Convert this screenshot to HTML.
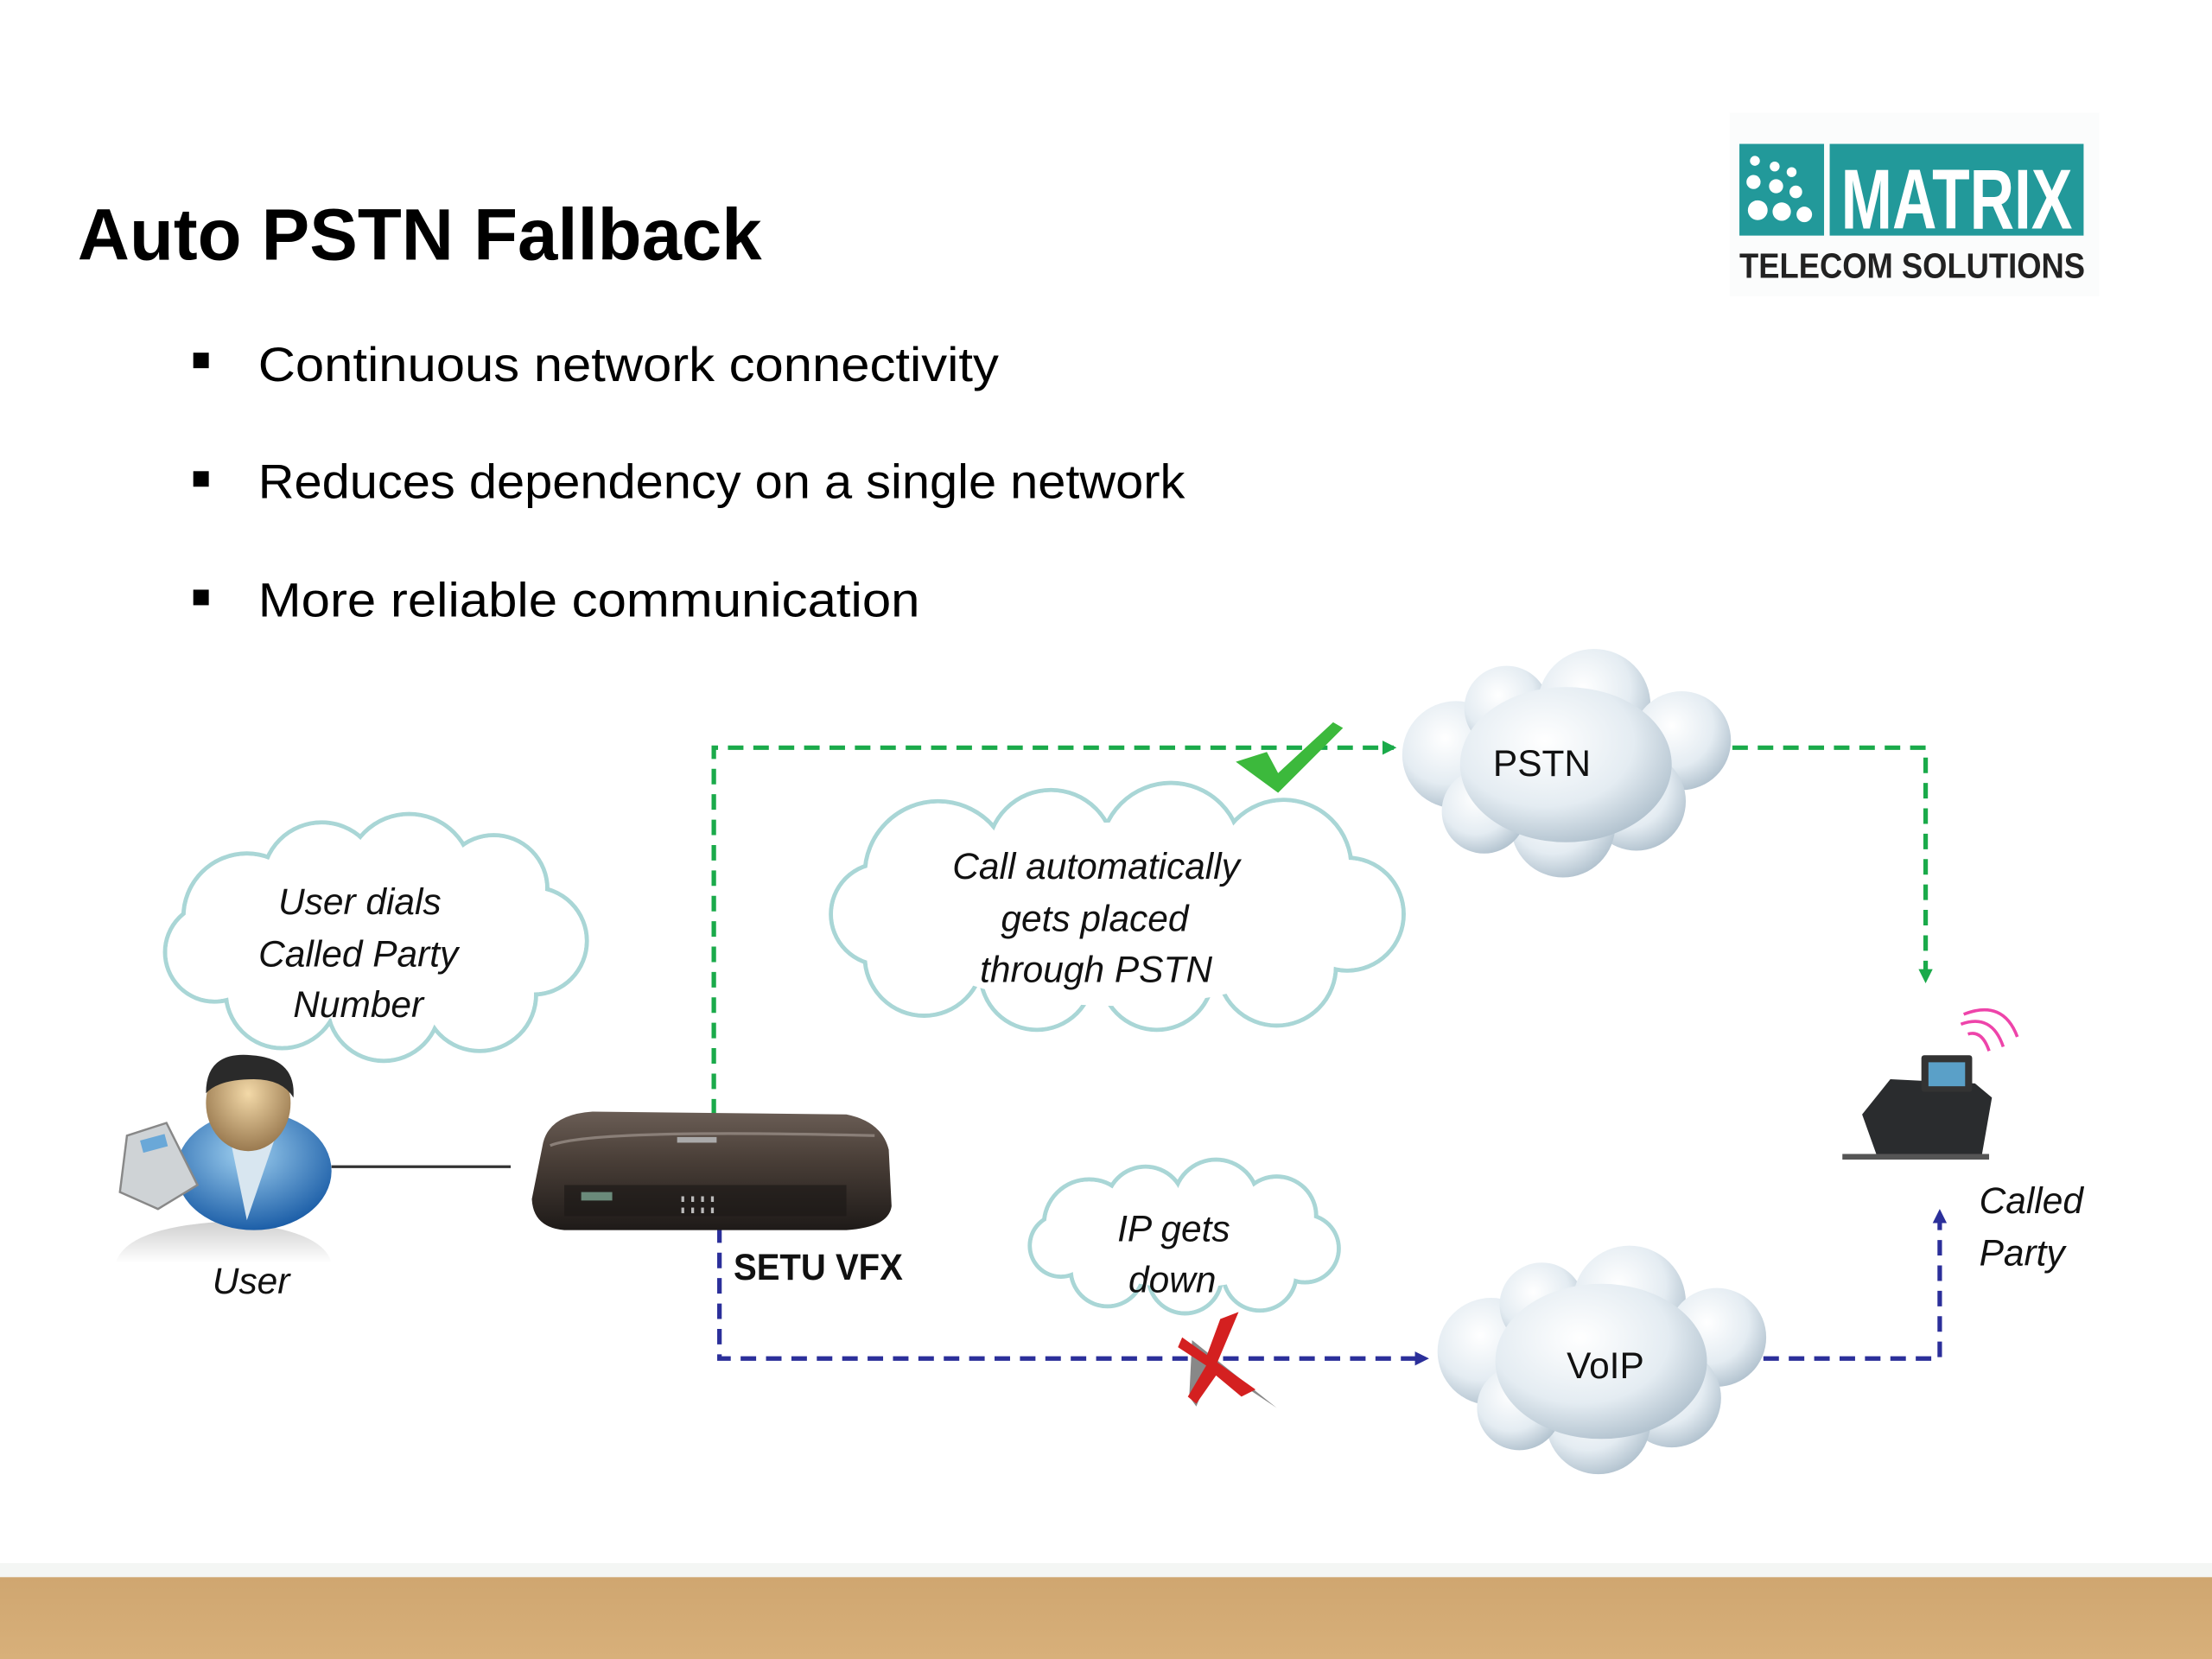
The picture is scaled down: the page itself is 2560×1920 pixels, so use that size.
<!DOCTYPE html>
<html><head><meta charset="utf-8"><style>
html,body{margin:0;padding:0;background:#fff;}
svg{display:block;}
</style></head><body>
<svg width="2560" height="1920" viewBox="0 0 1568 1176" xmlns="http://www.w3.org/2000/svg">
<defs>
<radialGradient id="cg" cx="40%" cy="35%" r="70%">
<stop offset="0" stop-color="#ffffff"/><stop offset="0.6" stop-color="#e4ecf2"/><stop offset="1" stop-color="#aebfcc"/>
</radialGradient>
<radialGradient id="body" cx="45%" cy="35%" r="65%"><stop offset="0" stop-color="#9fd0f0"/><stop offset="1" stop-color="#1d5fa8"/></radialGradient>
<radialGradient id="face" cx="50%" cy="40%" r="60%"><stop offset="0" stop-color="#f3d9a8"/><stop offset="1" stop-color="#9a7a50"/></radialGradient>
<linearGradient id="dev" x1="0" y1="0" x2="0" y2="1"><stop offset="0" stop-color="#6a5d55"/><stop offset="0.4" stop-color="#4a3f38"/><stop offset="1" stop-color="#1e1a18"/></linearGradient>
<linearGradient id="bar" x1="0" y1="0" x2="0" y2="1"><stop offset="0" stop-color="#cfa670"/><stop offset="1" stop-color="#d8b07a"/></linearGradient>
<linearGradient id="shd" x1="0" y1="0" x2="0" y2="1"><stop offset="0" stop-color="#cfcfcf"/><stop offset="1" stop-color="#ffffff"/></linearGradient>
<marker id="ag" markerWidth="10" markerHeight="10" refX="8" refY="5" orient="auto" markerUnits="userSpaceOnUse"><path d="M0,0 L10,5 L0,10 Z" fill="#1aaa4a"/></marker>
<marker id="ab" markerWidth="10" markerHeight="10" refX="8" refY="5" orient="auto" markerUnits="userSpaceOnUse"><path d="M0,0 L10,5 L0,10 Z" fill="#2b2f9a"/></marker>
</defs>
<rect width="1568" height="1176" fill="#fff"/>
<rect x="0" y="1108" width="1568" height="12" fill="#f4f6f4"/>
<rect x="0" y="1118" width="1568" height="58" fill="url(#bar)"/>

<text x="55" y="184" font-family="Liberation Sans, sans-serif" font-weight="bold" font-size="52" textLength="485" lengthAdjust="spacingAndGlyphs" fill="#000">Auto PSTN Fallback</text>
<g font-family="Liberation Sans, sans-serif" font-size="34" fill="#000">
<rect x="137" y="250" width="11" height="11"/><text x="183" y="270" textLength="525" lengthAdjust="spacingAndGlyphs">Continuous network connectivity</text>
<rect x="137" y="334" width="11" height="11"/><text x="183" y="353" textLength="657" lengthAdjust="spacingAndGlyphs">Reduces dependency on a single network</text>
<rect x="137" y="418" width="11" height="11"/><text x="183" y="437" textLength="469" lengthAdjust="spacingAndGlyphs">More reliable communication</text>
</g>

<rect x="1226" y="80" width="262" height="130" fill="#fbfcfc"/>
<rect x="1233" y="102" width="60" height="65" fill="#22999a"/>
<rect x="1297" y="102" width="180" height="65" fill="#22999a"/>
<g fill="#fff">
<circle cx="1244" cy="114" r="3.5"/><circle cx="1258" cy="118" r="3.5"/><circle cx="1270" cy="122" r="3.5"/>
<circle cx="1243" cy="129" r="5"/><circle cx="1259" cy="132" r="5"/><circle cx="1273" cy="136" r="4.5"/>
<circle cx="1246" cy="149" r="7"/><circle cx="1263" cy="150" r="6.5"/><circle cx="1279" cy="152" r="5.5"/>
</g>
<text x="1305" y="162" font-family="Liberation Sans Narrow, Liberation Sans, sans-serif" font-weight="bold" font-size="60" textLength="164" lengthAdjust="spacingAndGlyphs" fill="#fff">MATRIX</text>
<text x="1233" y="197" font-family="Liberation Sans Narrow, Liberation Sans, sans-serif" font-weight="bold" font-size="25" textLength="245" lengthAdjust="spacingAndGlyphs" fill="#222">TELECOM SOLUTIONS</text>

<g fill="none" stroke-width="3.2" stroke-dasharray="11,7">
<path d="M506,790 L506,530 L988,530" stroke="#1aaa4a" marker-end="url(#ag)"/>
<path d="M1228,530 L1365,530 L1365,695" stroke="#1aaa4a" marker-end="url(#ag)"/>
<path d="M510,870 L510,963 L1011,963" stroke="#2b2f9a" marker-end="url(#ab)"/>
<path d="M1250,963 L1375,963 L1375,859" stroke="#2b2f9a" marker-end="url(#ab)"/>
</g>
<line x1="235" y1="827" x2="362" y2="827" stroke="#333" stroke-width="2"/>

<g stroke="#a9d6d6" stroke-width="3" fill="#fff">
<g>
<circle cx="175" cy="650" r="45"/><circle cx="228" cy="625" r="42"/><circle cx="290" cy="622" r="45"/><circle cx="350" cy="630" r="38"/><circle cx="378" cy="667" r="38"/><circle cx="340" cy="705" r="40"/><circle cx="272" cy="712" r="40"/><circle cx="200" cy="703" r="40"/><circle cx="152" cy="675" r="35"/>
</g>
<g stroke="none">
<circle cx="175" cy="650" r="43.5"/><circle cx="228" cy="625" r="40.5"/><circle cx="290" cy="622" r="43.5"/><circle cx="350" cy="630" r="36.5"/><circle cx="378" cy="667" r="36.5"/><circle cx="340" cy="705" r="38.5"/><circle cx="272" cy="712" r="38.5"/><circle cx="200" cy="703" r="38.5"/><circle cx="152" cy="675" r="33.5"/><ellipse cx="265" cy="667" rx="95" ry="58"/>
</g>
<g>
<circle cx="665" cy="620" r="52"/><circle cx="745" cy="605" r="45"/><circle cx="830" cy="605" r="50"/><circle cx="910" cy="615" r="48"/><circle cx="955" cy="648" r="40"/><circle cx="905" cy="685" r="42"/><circle cx="820" cy="690" r="40"/><circle cx="735" cy="690" r="40"/><circle cx="655" cy="678" r="42"/><circle cx="625" cy="648" r="36"/>
</g>
<g stroke="none">
<circle cx="665" cy="620" r="50.5"/><circle cx="745" cy="605" r="43.5"/><circle cx="830" cy="605" r="48.5"/><circle cx="910" cy="615" r="46.5"/><circle cx="955" cy="648" r="38.5"/><circle cx="905" cy="685" r="40.5"/><circle cx="820" cy="690" r="38.5"/><circle cx="735" cy="690" r="38.5"/><circle cx="655" cy="678" r="40.5"/><circle cx="625" cy="648" r="34.5"/><ellipse cx="790" cy="648" rx="160" ry="65"/>
</g>
<g>
<circle cx="772" cy="868" r="32"/><circle cx="812" cy="855" r="28"/><circle cx="862" cy="852" r="30"/><circle cx="905" cy="862" r="28"/><circle cx="925" cy="885" r="24"/><circle cx="893" cy="903" r="26"/><circle cx="840" cy="905" r="26"/><circle cx="785" cy="900" r="26"/><circle cx="752" cy="883" r="22"/>
</g>
<g stroke="none">
<circle cx="772" cy="868" r="30.5"/><circle cx="812" cy="855" r="26.5"/><circle cx="862" cy="852" r="28.5"/><circle cx="905" cy="862" r="26.5"/><circle cx="925" cy="885" r="22.5"/><circle cx="893" cy="903" r="24.5"/><circle cx="840" cy="905" r="24.5"/><circle cx="785" cy="900" r="24.5"/><circle cx="752" cy="883" r="20.5"/><ellipse cx="840" cy="878" rx="80" ry="35"/>
</g>
</g>

<path d="M82,895 Q90,870 158,866 Q228,870 235,895 Z" fill="url(#shd)"/>
<ellipse cx="180" cy="830" rx="55" ry="42" fill="url(#body)"/>
<path d="M160,792 L200,792 L175,865 Z" fill="#d8e6f0"/>
<ellipse cx="176" cy="782" rx="30" ry="34" fill="url(#face)"/>
<path d="M146,775 Q146,745 178,748 Q210,750 208,778 Q200,765 180,765 Q155,765 146,775 Z" fill="#2a2a2a"/>
<path d="M90,805 L118,796 L140,840 L112,857 L85,845 Z" fill="#cfd3d6" stroke="#888" stroke-width="1.5"/>
<rect x="100" y="806" width="18" height="9" fill="#6aa8d8" transform="rotate(-15 109 810)"/>

<g font-family="Liberation Sans, sans-serif" font-style="italic" font-size="26" fill="#111" text-anchor="middle">
<text x="255" y="648">User dials</text><text x="254" y="685">Called Party</text><text x="254" y="721">Number</text>
<text x="777" y="623">Call automatically</text><text x="776" y="660">gets placed</text><text x="777" y="696">through PSTN</text>
<text x="832" y="880">IP gets</text><text x="831" y="916">down</text>
<text x="178" y="917">User</text>
<text x="1403" y="860" text-anchor="start">Called</text><text x="1403" y="897" text-anchor="start">Party</text>
</g>

<g fill="url(#cg)">
<circle cx="1032" cy="535" r="38"/><circle cx="1068" cy="502" r="30"/><circle cx="1130" cy="500" r="40"/><circle cx="1192" cy="525" r="35"/><circle cx="1160" cy="568" r="35"/><circle cx="1108" cy="585" r="37"/><circle cx="1052" cy="575" r="30"/><ellipse cx="1110" cy="542" rx="75" ry="55"/>
</g>
<g fill="url(#cg)" transform="translate(25,423)">
<circle cx="1032" cy="535" r="38"/><circle cx="1068" cy="502" r="30"/><circle cx="1130" cy="500" r="40"/><circle cx="1192" cy="525" r="35"/><circle cx="1160" cy="568" r="35"/><circle cx="1108" cy="585" r="37"/><circle cx="1052" cy="575" r="30"/><ellipse cx="1110" cy="542" rx="75" ry="55"/>
</g>
<g font-family="Liberation Sans, sans-serif" font-size="26" fill="#111" text-anchor="middle">
<text x="1093" y="550">PSTN</text><text x="1138" y="977">VoIP</text>
</g>
<text x="520" y="907" font-family="Liberation Sans, sans-serif" font-weight="bold" font-size="26" fill="#111" textLength="120" lengthAdjust="spacingAndGlyphs">SETU VFX</text>

<path d="M876,540 L898,533 L906,548 L945,512 L952,516 L906,562 Z" fill="#3cb93c"/>
<path d="M845,950 L895,990 L905,998 L860,968 L848,997 L843,990 Z" fill="#888"/>
<path d="M838,948 L890,985 L880,990 L862,975 L848,995 L842,990 L855,968 L835,955 Z M865,935 L878,930 L862,968 L855,962 Z" fill="#d42020"/>

<path d="M385,810 Q390,790 420,788 L600,790 Q625,795 630,815 L632,855 Q630,870 600,872 L400,872 Q378,870 377,850 Z" fill="url(#dev)"/>
<path d="M390,812 Q420,800 620,805" stroke="#8a7f78" stroke-width="2" fill="none"/>
<rect x="400" y="840" width="200" height="22" fill="#1b1715" opacity="0.6"/>
<rect x="412" y="845" width="22" height="6" fill="#6a8a7a"/>
<rect x="480" y="806" width="28" height="4" fill="#aaa"/>
<g fill="#bbb"><rect x="483" y="848" width="2" height="4"/><rect x="490" y="848" width="2" height="4"/><rect x="497" y="848" width="2" height="4"/><rect x="504" y="848" width="2" height="4"/><rect x="483" y="856" width="2" height="4"/><rect x="490" y="856" width="2" height="4"/><rect x="497" y="856" width="2" height="4"/><rect x="504" y="856" width="2" height="4"/></g>

<path d="M1320,790 L1340,765 L1400,768 L1412,778 L1405,818 L1330,818 Z" fill="#2a2c2e"/>
<rect x="1362" y="748" width="36" height="26" fill="#333" rx="2"/>
<rect x="1367" y="753" width="26" height="17" fill="#5aa0c8"/>
<path d="M1306,818 L1410,818 L1410,822 L1306,822 Z" fill="#555"/>
<g fill="none" stroke="#ee44aa" stroke-width="2.2">
<path d="M1390,726 Q1412,718 1420,742"/><path d="M1392,719 Q1420,708 1430,735"/><path d="M1395,733 Q1405,730 1410,745"/>
</g>
</svg>
</body></html>
